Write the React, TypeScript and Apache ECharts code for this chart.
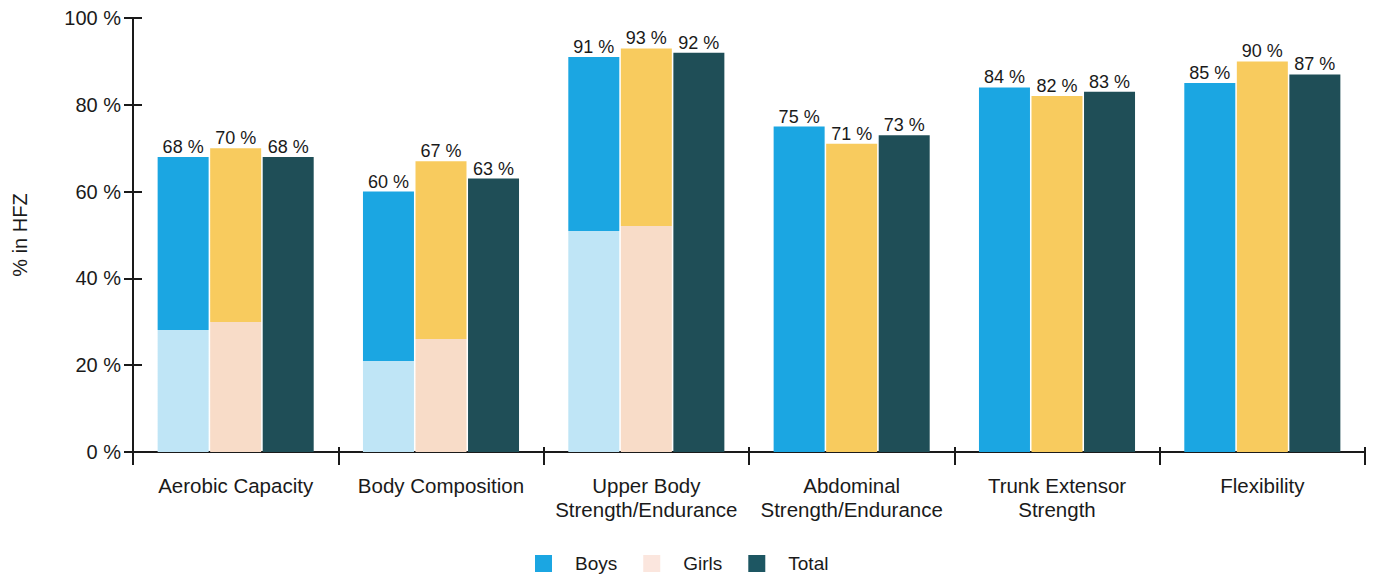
import React, { useEffect, useRef } from "react";
import * as echarts from "echarts";

// Fitness test results: share of students in the Healthy Fitness Zone
const categories = [
  "Aerobic Capacity",
  "Body Composition",
  "Upper Body\nStrength/Endurance",
  "Abdominal\nStrength/Endurance",
  "Trunk Extensor\nStrength",
  "Flexibility",
];
const boys = [68, 60, 91, 75, 84, 85];
const girls = [70, 67, 93, 71, 82, 90];
const total = [68, 63, 92, 73, 83, 87];
const yTicks = [0, 20, 40, 60, 80, 100];

// Height (in %) up to which the pale base colour shows through the shading
const boysPaleBelow = [28, 21, 51, 0, 0, 0];
const girlsPaleBelow = [30, 26, 52, 0, 0, 0];

const FONT = "'Liberation Sans', Arial, sans-serif";

const BLUE = "#1ba6e2";
const BLUE_PALE = "#bfe5f6";
const YELLOW = "#f8cb5e";
const PINK = "#f8dcc8";
const TEAL = "#1f4e57";
const INK = "#1a1a1a";

function shaded(values: number[], pale: number[], main: string, light: string) {
  return values.map((v, i) => {
    if (!pale[i]) return { value: v, itemStyle: { color: main } };
    const t = 1 - pale[i] / v;
    return {
      value: v,
      itemStyle: {
        color: new echarts.graphic.LinearGradient(0, 0, 0, 1, [
          { offset: 0, color: main },
          { offset: t, color: main },
          { offset: t, color: light },
          { offset: 1, color: light },
        ]),
      },
    };
  });
}

export default function App() {
  const ref = useRef<HTMLDivElement>(null);

  useEffect(() => {
    if (!ref.current) return;
    const chart = echarts.init(ref.current, null, { renderer: "svg" });

    const valueLabel = {
      show: true,
      position: "top" as const,
      distance: 1,
      formatter: (p: any) => `${p.value} %`,
      color: INK,
      fontFamily: FONT,
      fontSize: 18,
    };

    chart.setOption({
      animation: false,
      backgroundColor: "#ffffff",
      grid: { left: 133, right: 8, top: 18, height: 434 },
      legend: {
        left: 530,
        top: 549,
        itemWidth: 17,
        itemHeight: 17,
        itemGap: 26,
        icon: "rect",
        textStyle: {
          fontFamily: FONT,
          fontSize: 19,
          color: INK,
          padding: [0, 0, 0, 18],
        },
        data: [
          { name: "Boys", itemStyle: { color: BLUE } },
          { name: "Girls", itemStyle: { color: "#fbe6de" } },
          { name: "Total", itemStyle: { color: "#1d5662" } },
        ],
      },
      xAxis: [
        {
          type: "category",
          data: categories,
          axisLine: { show: true, lineStyle: { color: INK, width: 2 } },
          axisTick: { show: true, length: 13, lineStyle: { color: INK, width: 2 } },
          axisLabel: {
            fontFamily: FONT,
            fontSize: 20.5,
            color: INK,
            margin: 21,
            lineHeight: 24,
            interval: 0,
          },
          splitLine: { show: false },
        },
        {
          type: "category",
          data: categories,
          position: "bottom",
          axisLine: { show: false },
          axisTick: { show: true, inside: true, length: 5, lineStyle: { color: INK, width: 2 } },
          axisLabel: { show: false },
        },
      ],
      yAxis: [
        {
          type: "value",
          min: 0,
          max: 100,
          interval: 20,
          axisLine: { show: true, lineStyle: { color: INK, width: 2 } },
          axisTick: { show: true, length: 9, lineStyle: { color: INK, width: 2 } },
          axisLabel: {
            fontFamily: FONT,
            fontSize: 20,
            color: INK,
            margin: 12,
            formatter: (v: number) => (yTicks.includes(v) ? `${v} %` : ""),
          },
          splitLine: { show: false },
        },
        {
          type: "value",
          min: 0,
          max: 100,
          interval: 20,
          position: "left",
          axisLine: { show: false },
          axisTick: { show: true, inside: true, length: 9, lineStyle: { color: INK, width: 2 } },
          axisLabel: { show: false },
          splitLine: { show: false },
        },
      ],
      graphic: [
        {
          type: "text",
          x: 20,
          y: 235,
          rotation: Math.PI / 2,
          style: {
            text: "% in HFZ",
            fontFamily: FONT,
            fontSize: 20,
            fill: INK,
            align: "center",
            verticalAlign: "middle",
          },
        },
      ],
      series: [
        {
          name: "Boys",
          type: "bar",
          barWidth: 51,
          barGap: "3%",
          barCategoryGap: "24%",
          itemStyle: { color: BLUE },
          label: valueLabel,
          data: shaded(boys, boysPaleBelow, BLUE, BLUE_PALE),
        },
        {
          name: "Girls",
          type: "bar",
          barWidth: 51,
          barGap: "3%",
          itemStyle: { color: YELLOW },
          label: valueLabel,
          data: shaded(girls, girlsPaleBelow, YELLOW, PINK),
        },
        {
          name: "Total",
          type: "bar",
          barWidth: 51,
          barGap: "3%",
          itemStyle: { color: TEAL },
          label: valueLabel,
          data: total,
        },
      ],
    });

    return () => chart.dispose();
  }, []);

  return (
    <div
      ref={ref}
      style={{ position: "fixed", left: 0, top: 0, width: 1373, height: 578 }}
    />
  );
}
